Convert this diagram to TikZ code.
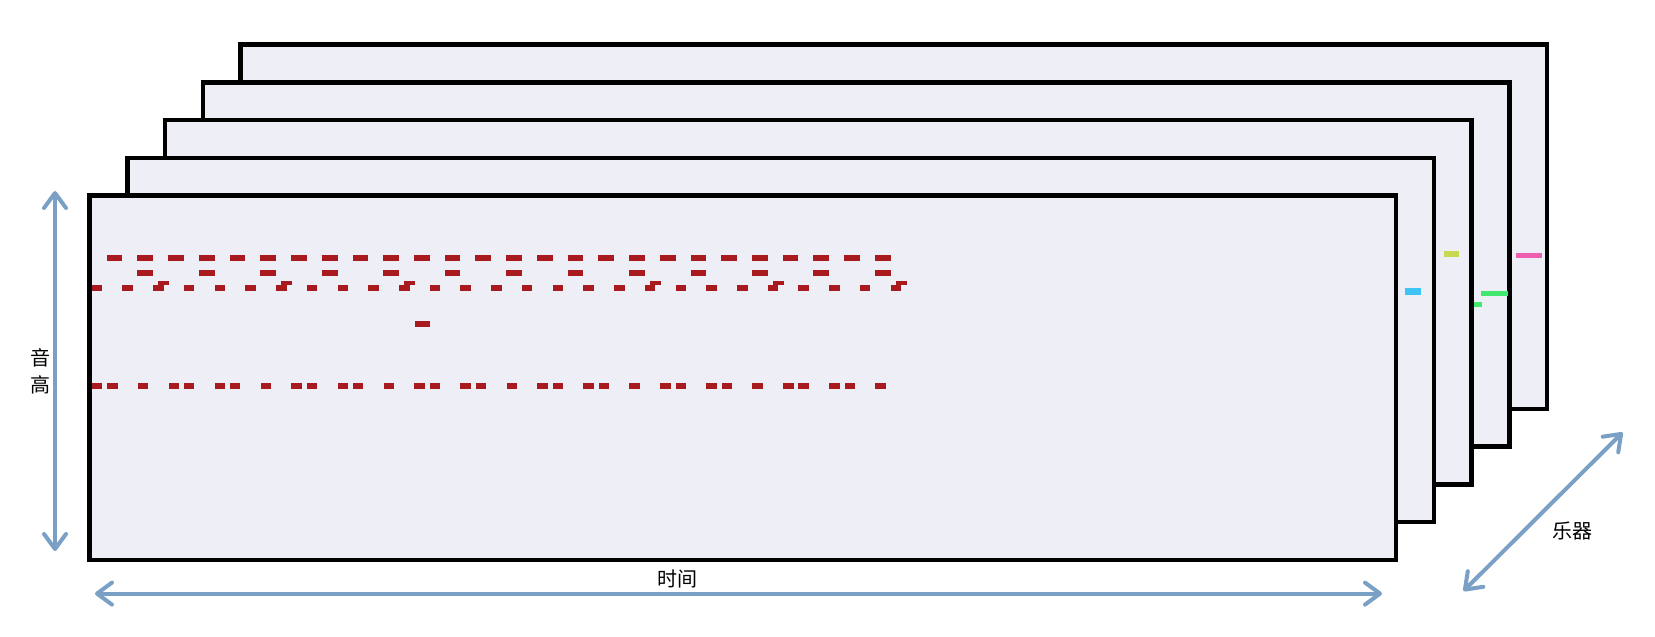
\documentclass[tikz,border=0pt]{standalone}
\usepackage{fontspec}
\newfontfamily\cjk{Noto Sans CJK SC}
\usetikzlibrary{arrows.meta}
\definecolor{axisblue}{RGB}{122,160,198}
\definecolor{notered}{RGB}{168,26,30}
\definecolor{sheet}{RGB}{238,238,247}
\definecolor{noteblue}{RGB}{62,195,245}
\definecolor{noteyellow}{RGB}{200,216,80}
\definecolor{notegreen}{RGB}{64,232,112}
\definecolor{notepink}{RGB}{240,96,176}
\begin{document}
\begin{tikzpicture}[x=1pt,y=-1pt,
  sheetbox/.style={draw=black,line width=4.5pt,fill=sheet},
  axisline/.style={draw=axisblue,line width=4pt,line cap=round,
    {Straight Barb[length=15pt,width=22pt,round]}-{Straight Barb[length=15pt,width=22pt,round]}},
  lbl/.style={font=\cjk\fontsize{20}{27}\selectfont,inner sep=0pt,align=center}]
\useasboundingbox[fill=white] (0,0) rectangle (1655,637);
% back sheets with their visible notes
\draw[sheetbox] ({89.5+37.8*4},{195.7-37.8*4}) rectangle ({1396+37.8*4},{560-37.8*4});
\fill[notepink] (1516,252.5) rectangle (1542,257.5);
\draw[sheetbox] ({89.5+37.8*3},{195.7-37.8*3}) rectangle ({1396+37.8*3},{560-37.8*3});
\fill[notegreen] (1481,290.5) rectangle (1508,295.5);
\fill[notegreen] (1466,301.5) rectangle (1482,306.5);
\draw[sheetbox] ({89.5+37.8*2},{195.7-37.8*2}) rectangle ({1396+37.8*2},{560-37.8*2});
\fill[noteyellow] (1444,250.5) rectangle (1459,256.5);
\draw[sheetbox] ({89.5+37.8*1},{195.7-37.8*1}) rectangle ({1396+37.8*1},{560-37.8*1});
\fill[noteblue] (1405,288) rectangle (1421,294.5);
% front sheet
\draw[sheetbox] (89.5,195.7) rectangle (1396,560);
% row A
\foreach \i in {0,...,25} {\fill[notered] ({106.7+30.73*\i},254.5) rectangle ++(15.7,6);}
% row B
\foreach \i in {1,3,...,25} {\fill[notered] ({106.7+30.73*\i},269.5) rectangle ++(15.7,6);}
% row C
\foreach \k in {0,...,26} {\fill[notered] ({91.7+30.73*\k},285) rectangle ++(10.5,6);}
\foreach \k in {2,6,10,18,22,26} {\fill[notered] ({96.7+30.73*\k},280.5) rectangle ++(11,4.5);}
% single note
\fill[notered] (414.7,321) rectangle (430.2,327);
% row D
\foreach \j in {0,1,3,5,6,8,9,11,13,14,16,17,19,21,22,24,25,27,29,30,32,33,35,37,38,40,41,43,45,46,48,49,51}
  {\fill[notered] ({91.7+15.365*\j},383) rectangle ++(10.5,6);}
% axes
\coordinate (pitchtop) at (55,191);
\coordinate (pitchbot) at (55,551);
\coordinate (timeleft) at (95,593.6);
\coordinate (timeright) at (1382,593.6);
\coordinate (instlow) at (1463.5,591);
\coordinate (insthigh) at (1622.5,432.5);
\draw[axisline] (pitchtop) -- (pitchbot);
\draw[axisline] (timeleft) -- (timeright);
\draw[axisline] (instlow) -- (insthigh);
\node[lbl] (pitchlabel) at (40,371.5) {音\\高};
\node[lbl] (timelabel) at (677,579) {时间};
\node[lbl] (instlabel) at (1572,531) {乐器};
\end{tikzpicture}
\end{document}
